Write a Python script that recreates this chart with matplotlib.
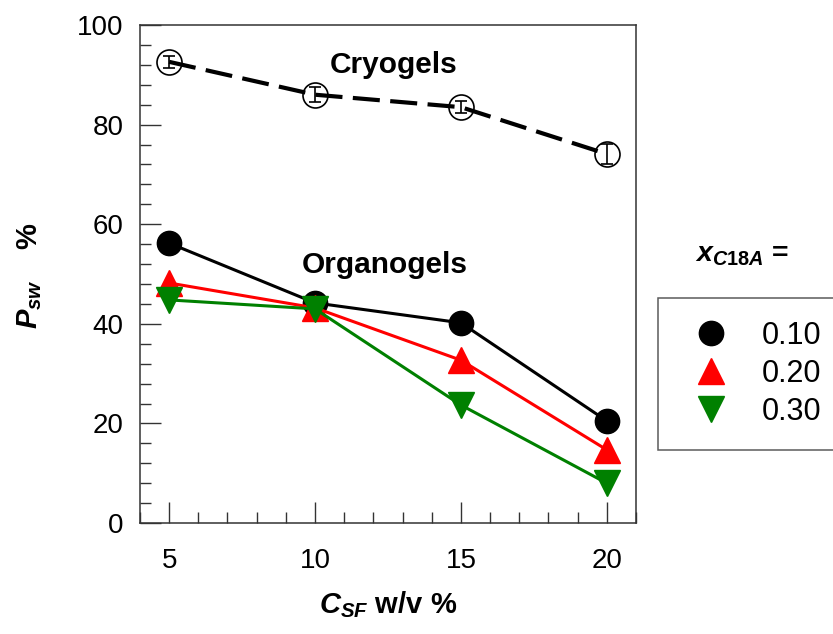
import matplotlib
matplotlib.use("Agg")
import matplotlib.pyplot as plt
from matplotlib.ticker import MultipleLocator

plt.rcParams["font.family"] = ["Liberation Sans", "DejaVu Sans"]
plt.rcParams["mathtext.fontset"] = "custom"
plt.rcParams["mathtext.it"] = "Liberation Sans:bold:italic"
plt.rcParams["mathtext.rm"] = "Liberation Sans:bold"
plt.rcParams["mathtext.bf"] = "Liberation Sans:bold"

# data
csf = [5, 10, 15, 20]
cryo = [92.6, 86.0, 83.5, 74.1]
cryo_err = [1.2, 1.5, 1.2, 2.0]
org_010 = [56.2, 44.2, 40.2, 20.5]
org_020 = [48.2, 43.2, 32.7, 14.7]
org_030 = [44.8, 43.0, 23.7, 8.0]
labels = ["0.10", "0.20", "0.30"]

fig = plt.figure(figsize=(8.33, 6.34), dpi=100)
ax = fig.add_axes([0.168, 0.175, 0.5955, 0.7856])

# cryogels: open circles, dashed line, small error bars
ax.plot(csf, cryo, ls=(0, (6.5, 2.5)), color="black", lw=3, zorder=2)
ax.errorbar(csf, cryo, yerr=cryo_err, fmt="none", ecolor="black",
            elinewidth=1.2, capsize=4, capthick=1.2, zorder=3)
ax.plot(csf, cryo, "o", ms=18, mfc="none", mec="black", mew=1.2, zorder=4)

# organogels
h1, = ax.plot(csf, org_010, "-o", color="black", lw=2.2, ms=17.5, zorder=5)
h2, = ax.plot(csf, org_020, "-^", color="#ff0000", lw=2.2, ms=19, zorder=5)
h3, = ax.plot(csf, org_030, "-v", color="#008000", lw=2.2, ms=19, zorder=5)

ax.text(12.7, 92, "Cryogels", fontsize=21.5, fontweight="bold", ha="center", va="center")
ax.text(12.4, 51.8, "Organogels", fontsize=21.5, fontweight="bold", ha="center", va="center")

ax.set_xlim(4, 21)
ax.set_ylim(0, 100)
ax.xaxis.set_major_locator(MultipleLocator(5))
ax.xaxis.set_minor_locator(MultipleLocator(1))
ax.yaxis.set_major_locator(MultipleLocator(20))
ax.yaxis.set_minor_locator(MultipleLocator(4))
ax.tick_params(which="both", direction="in", width=1, color="#333333",
               labelsize=20)
ax.tick_params(which="major", length=15)
ax.tick_params(which="minor", length=8)
ax.tick_params(axis="x", pad=18)
ax.tick_params(axis="y", pad=12)
for s in ax.spines.values():
    s.set_linewidth(1.1)
    s.set_color("#333333")

fig.text(30 / 833, 1 - 276 / 634, r"$P_{sw}$    %", rotation=90,
         fontsize=21, fontweight="bold", ha="center", va="center")
fig.text(388 / 833, 1 - 605 / 634, r"$C_{SF}$ w/v %",
         fontsize=21, fontweight="bold", ha="center", va="center")

fig.text(742 / 833, 1 - 255 / 634, r"$x_{C18A}$ =",
         fontsize=20.5, fontweight="bold", ha="center", va="center")
leg = fig.legend([h1, h2, h3], labels, loc="upper left",
                 bbox_to_anchor=(658 / 833, 1 - 298 / 634, 0.3, 0), mode="expand",
                 fontsize=22, frameon=True, fancybox=False, borderpad=0.75,
                 handlelength=2.0, handletextpad=0.65, labelspacing=0.26,
                 borderaxespad=0)
for lh in leg.legend_handles:
    lh.set_linestyle("none")
leg.get_frame().set_edgecolor("#333333")
leg.get_frame().set_linewidth(1.1)

fig.savefig("out.png", dpi=100)
